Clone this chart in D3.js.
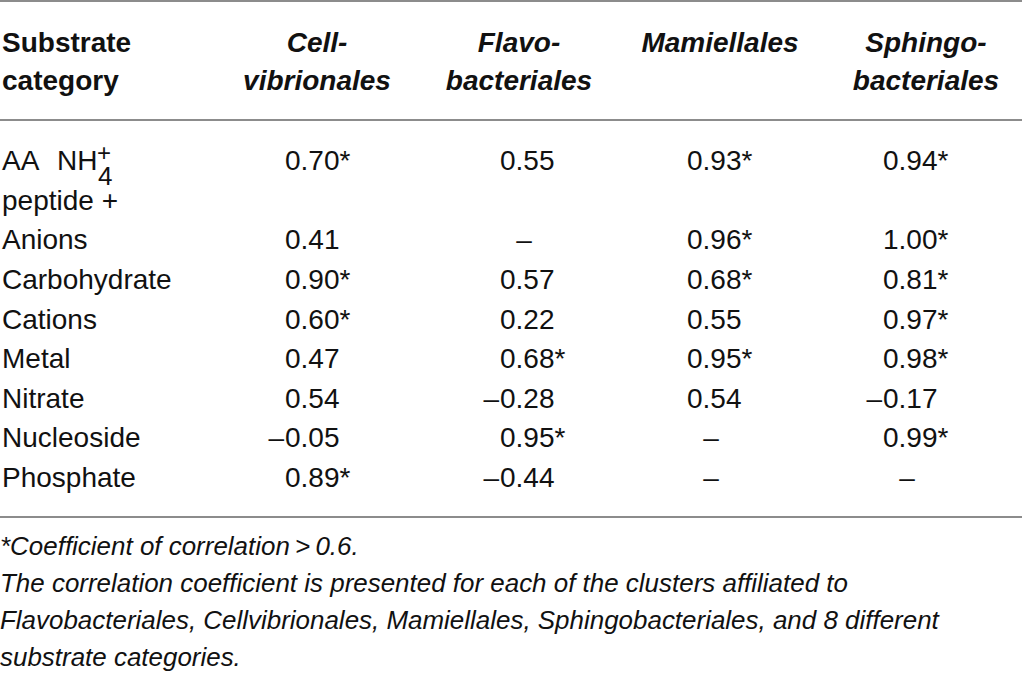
<!DOCTYPE html>
<html>
<head>
<meta charset="utf-8">
<script src="https://cdn.jsdelivr.net/npm/d3@7/dist/d3.min.js"></script>
<style>
html, body { margin: 0; padding: 0; background: #fff; }
svg { display: block; font-family: "Liberation Sans", Arial, Helvetica, sans-serif; }
</style>
</head>
<body>
<script>
// table data
var categories = ["AA + NH4+ peptide", "Anions", "Carbohydrate", "Cations", "Metal", "Nitrate", "Nucleoside", "Phosphate"];
var clusters = ["Cellvibrionales", "Flavobacteriales", "Mamiellales", "Sphingobacteriales"];
var clusterHeads = [["Cell-", "vibrionales"], ["Flavo-", "bacteriales"], ["Mamiellales"], ["Sphingo-", "bacteriales"]];

var cellvibrionales    = [0.70, 0.41, 0.90, 0.60, 0.47, 0.54, -0.05, 0.89];
var flavobacteriales   = [0.55, null, 0.57, 0.22, 0.68, -0.28, 0.95, -0.44];
var mamiellales        = [0.93, 0.96, 0.68, 0.55, 0.95, 0.54, null, null];
var sphingobacteriales = [0.94, 1.00, 0.81, 0.97, 0.98, -0.17, 0.99, null];

// * = coefficient of correlation > 0.6
var cellStar  = [1, 0, 1, 1, 0, 0, 0, 1];
var flavoStar = [0, 0, 0, 0, 1, 0, 1, 0];
var mamStar   = [1, 1, 1, 0, 1, 0, 0, 0];
var sphStar   = [1, 1, 1, 1, 1, 0, 1, 0];

var footnotes = [
  "*Coefficient of correlation\u2009>\u20090.6.",
  "The correlation coefficient is presented for each of the clusters affiliated to",
  "Flavobacteriales, Cellvibrionales, Mamiellales, Sphingobacteriales, and 8 different",
  "substrate categories."
];

try {
  var width = 1022, height = 677;
  var series = [cellvibrionales, flavobacteriales, mamiellales, sphingobacteriales];
  var stars = [cellStar, flavoStar, mamStar, sphStar];

  var svg = d3.select("body").append("svg")
    .attr("width", width)
    .attr("height", height);

  var colX = d3.scaleOrdinal().domain(clusters).range([285, 500, 687, 883]);
  var headX = d3.scaleOrdinal().domain(clusters).range([317, 519, 720, 926]);
  var headY = d3.scaleLinear().domain([0, 1]).range([52, 90]);
  var lineY = d3.scaleLinear().domain([0, 8]).range([170, 487]);
  var fmt = d3.format(".2f");

  // rules
  svg.selectAll("line.rule")
    .data([1, 120, 517])
    .enter().append("line")
    .attr("class", "rule")
    .attr("x1", 0).attr("x2", width)
    .attr("y1", function(d) { return d; })
    .attr("y2", function(d) { return d; })
    .attr("stroke", "#8c8c8c")
    .attr("stroke-width", 2);

  // header
  var head = svg.append("g").attr("fill", "#111").style("font-size", "28px").style("font-weight", "bold");
  head.append("text").attr("x", 2).attr("y", headY(0)).text("Substrate");
  head.append("text").attr("x", 2).attr("y", headY(1)).text("category");

  clusters.forEach(function(c, i) {
    head.selectAll(null)
      .data(clusterHeads[i])
      .enter().append("text")
      .attr("x", headX(c))
      .attr("y", function(d, j) { return headY(j); })
      .attr("text-anchor", "middle")
      .style("font-style", "italic")
      .text(function(d) { return d; });
  });

  // body
  var body = svg.append("g").attr("fill", "#111").style("font-size", "28px");
  var rowLine = function(i) { return i === 0 ? 0 : i + 1; };

  // first category has a chemical formula, stacked super/subscript
  var aa = body.append("text").attr("x", 2).attr("y", lineY(0));
  aa.append("tspan").text("AA");
  aa.append("tspan").attr("x", 57).text("NH");
  body.append("text").attr("x", 97).attr("y", lineY(0) - 9).style("font-size", "24px").text("+");
  body.append("text").attr("x", 98).attr("y", lineY(0) + 15).style("font-size", "26px").text("4");
  body.append("text").attr("x", 2).attr("y", lineY(1)).text("peptide +");

  body.selectAll("text.cat")
    .data(categories.slice(1))
    .enter().append("text")
    .attr("class", "cat")
    .attr("x", 2)
    .attr("y", function(d, i) { return lineY(rowLine(i + 1)); })
    .text(function(d) { return d; });

  clusters.forEach(function(c, k) {
    var cells = series[k].map(function(v, i) { return { v: v, star: stars[k][i], line: rowLine(i) }; });
    var g = body.append("g");

    g.selectAll("text.val")
      .data(cells.filter(function(d) { return d.v !== null; }))
      .enter().append("text")
      .attr("class", "val")
      .attr("x", colX(c))
      .attr("y", function(d) { return lineY(d.line); })
      .text(function(d) { return fmt(Math.abs(d.v)) + (d.star ? "*" : ""); });

    g.selectAll("text.neg")
      .data(cells.filter(function(d) { return d.v !== null && d.v < 0; }))
      .enter().append("text")
      .attr("class", "neg")
      .attr("x", colX(c) - 1)
      .attr("y", function(d) { return lineY(d.line); })
      .attr("text-anchor", "end")
      .text("\u2013");

    g.selectAll("text.nil")
      .data(cells.filter(function(d) { return d.v === null; }))
      .enter().append("text")
      .attr("class", "nil")
      .attr("x", colX(c) + 24)
      .attr("y", function(d) { return lineY(d.line); })
      .attr("text-anchor", "middle")
      .text("\u2013");
  });

  // footnotes, condensed italic
  var foot = svg.append("g").attr("fill", "#111").style("font-size", "26px").style("font-style", "italic");
  var ft = foot.selectAll("text")
    .data(footnotes)
    .enter().append("text")
    .attr("x", 0)
    .attr("y", function(d, i) { return 555 + i * 37; })
    .text(function(d) { return d; });
  var widest = d3.max(ft.nodes(), function(n) { return n.getComputedTextLength(); });
  foot.attr("transform", "scale(" + (939 / widest) + ",1)");
}
catch (e) {
  console.log(e);
}
</script>
</body>
</html>
